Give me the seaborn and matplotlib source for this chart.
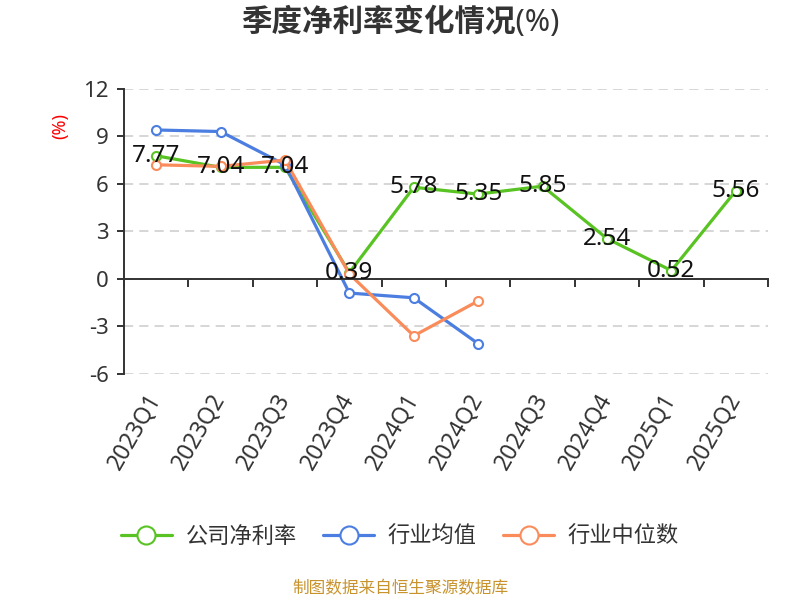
import numpy as np
import pandas as pd
import seaborn as sns
import matplotlib.pyplot as plt

quarters = ['2023Q1', '2023Q2', '2023Q3', '2023Q4', '2024Q1',
            '2024Q2', '2024Q3', '2024Q4', '2025Q1', '2025Q2']
company = [7.77, 7.04, 7.04, 0.39, 5.78, 5.35, 5.85, 2.54, 0.52, 5.56]
ind_mean = [9.4, 9.3, 7.2, -0.9, -1.2, -4.1]
ind_median = [7.2, 7.1, 7.5, 0.3, -3.6, -1.4]

sns.set_style('white')
plt.rcParams['font.family'] = ['Noto Sans', 'Noto Sans CJK SC', 'DejaVu Sans']
plt.rcParams['axes.unicode_minus'] = False

series = [('公司净利率', company, '#58c322'),
          ('行业均值', ind_mean, '#4b7ee0'),
          ('行业中位数', ind_median, '#fa8c5b')]

fig = plt.figure(figsize=(8, 6), dpi=100)
ax = fig.add_axes([0.155, 0.377, 0.805, 0.475])

for name, vals, color in series:
    df = pd.DataFrame({'x': np.arange(len(vals)), 'y': vals})
    sns.lineplot(data=df, x='x', y='y', ax=ax, color=color, linewidth=2.3,
                 marker='o', markersize=6.5, markerfacecolor='white',
                 markeredgecolor=color, markeredgewidth=1.5, label=name)

# 公司净利率的数据标签
for i, v in enumerate(company):
    ax.text(i, v, f'{v:.2f}', ha='center', va='center', fontsize=17.5, color='#111111')

ax.set_ylim(-6, 12)
ax.set_yticks([-6, -3, 0, 3, 6, 9, 12])
ax.set_xlim(-0.5, len(quarters) - 0.5)
ax.yaxis.grid(True, linestyle=(0, (6, 4)), color='#cccccc', linewidth=1.1)

for s in ['top', 'right']:
    ax.spines[s].set_visible(False)
ax.spines['left'].set_color('#333333')
ax.spines['left'].set_linewidth(1.4)
ax.spines['bottom'].set_position(('data', 0))
ax.spines['bottom'].set_color('#333333')
ax.spines['bottom'].set_linewidth(1.4)

ax.set_xticks(np.arange(len(quarters)))
ax.set_xticklabels(quarters, rotation=60, ha='right', va='center',
                   rotation_mode='anchor')
ax.set_xticks(np.arange(len(quarters) + 1) - 0.5, minor=True)
ax.tick_params(axis='x', which='major', bottom=True, length=0, pad=84,
               labelsize=16.5, labelcolor='#333333')
ax.tick_params(axis='x', which='minor', bottom=True, length=6, width=1.4,
               color='#333333', direction='out')
ax.tick_params(axis='y', left=True, length=5, width=1.4, color='#333333',
               labelsize=16, labelcolor='#333333', direction='out', pad=6)

ax.set_xlabel('')
ax.set_ylabel('(%)', color='red', fontsize=13)
ax.yaxis.set_label_coords(-0.085, 0.87)

fig.text(0.5, 0.962, '季度净利率变化情况(%)', ha='center', va='center',
         fontsize=22, fontweight='bold', color='#333333')

ax.legend(loc='center', bbox_to_anchor=(0.5, 0.105), bbox_transform=fig.transFigure,
          ncol=3, frameon=False, fontsize=16, markerscale=2.0, handlelength=2.3,
          columnspacing=1.2, handletextpad=0.6, labelcolor='#333333')

fig.text(0.5, 0.005, '制图数据来自恒生聚源数据库', ha='center', va='bottom',
         fontsize=12, color='#c8932d')

fig.savefig('out.png', dpi=100)
